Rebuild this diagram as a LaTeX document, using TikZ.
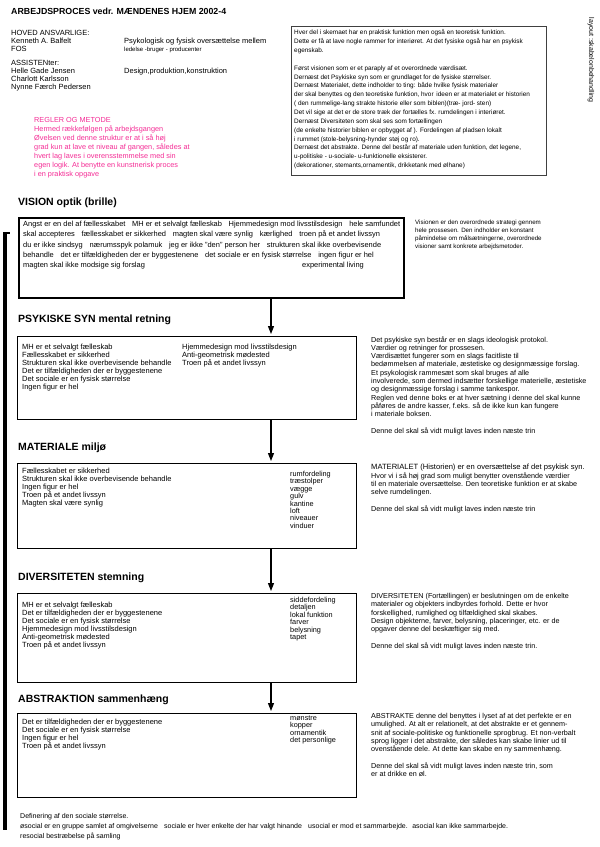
\documentclass[tikz,border=0pt]{standalone}
\usepackage{fontspec}
\setmainfont{Liberation Sans}
\usepackage{tikz}
\usetikzlibrary{arrows.meta}
\definecolor{rulepink}{RGB}{245,45,150}
\newcommand{\gp}{\hspace{0.9em}}

\begin{document}
\begin{tikzpicture}[x=1pt,y=-1pt,
		plain/.style={anchor=north west, inner sep=0pt, align=left, font=\fontsize{7.5}{8}\selectfont},
		note/.style={plain, font=\fontsize{7.2}{8.3}\selectfont},
		hdr/.style={anchor=west, inner sep=0pt, font=\fontsize{10.5}{12}\selectfont\bfseries},
		stagebox/.style={draw, anchor=north west, inner sep=0pt, line width=1.3pt, minimum width=339pt},
		flow/.style={-{Triangle[length=8pt,width=6pt]}, line width=1.3pt, shorten >=2pt}]
	\useasboundingbox (0,0) rectangle (600,847);
	\fill[white] (0,0) rectangle (600,847);
	\node[anchor=base west, inner sep=0pt, font=\fontsize{8.8}{11}\selectfont\bfseries] (title) at (11,14) {ARBEJDSPROCES vedr. MÆNDENES HJEM 2002-4};
	\node[plain, font=\fontsize{7.5}{8}\selectfont] (lead) at (11,30) {HOVED ANSVARLIGE:\\Kenneth A. Balfelt\\FOS};
	\node[plain, font=\fontsize{7.5}{8}\selectfont] (assist) at (11,60) {ASSISTENter:\\Helle Gade Jensen\\Charlott Karlsson\\Nynne Færch Pedersen};
	\node[plain, font=\fontsize{7.5}{8}\selectfont] (role) at (124,38) {Psykologisk og fysisk oversættelse mellem};
	\node[plain, font=\fontsize{6}{7}\selectfont] (rolesub) at (124,46.5) {ledelse -bruger - producenter};
	\node[plain, font=\fontsize{7.5}{8}\selectfont] (design) at (124,68) {Design,produktion,konstruktion};
	\node[plain, text=rulepink, font=\fontsize{7.3}{9}\selectfont] (rules) at (34,117) {REGLER OG METODE\\Hermed rækkefølgen på arbejdsgangen\\Øvelsen ved denne struktur er at i så høj\\grad kun at lave et niveau af gangen, således at\\hvert lag laves i overensstemmelse med sin\\egen logik. At benytte en kunstnerisk proces\\i en praktisk opgave};
	\node[draw=black!75, line width=0.7pt, anchor=north west, inner sep=0pt, minimum width=255pt, minimum height=149pt] (notebox) at (291,26) {};
	\node[plain, font=\fontsize{6.4}{8.85}\selectfont] (notes) at (294,29.5) {Hver del i skemaet har en praktisk funktion men også en teoretisk funktion.\\Dette er få at lave nogle rammer for interiøret. At det fysiske også har en psykisk\\egenskab.\\[8.85pt]Først visionen som er et paraply af et overordnede værdisæt.\\Dernæst det Psykiske syn som er grundlaget for de fysiske størrelser.\\Dernæst Materialet, dette indholder to ting: både hvilke fysisk materialer\\der skal benyttes og den teoretiske funktion, hvor\, ideen er at materialet er historien\\( den rummelige-lang strakte historie eller som biblen)(træ- jord- sten)\\Det vil sige at det er de store træk der fortælles fx. rumdelingen i interiøret.\\Dernæst Diversiteten som skal ses som fortællingen\\(de enkelte historier biblen er opbygget af ). Fordelingen af pladsen lokalt\\i rummet (stole-belysning-hynder støj og ro).\\Dernæst det abstrakte. Denne del består af materiale uden funktion, det legene,\\u-politiske - u-sociale- u-funktionelle eksisterer.\\(dekorationer, stemants,ornamentik, drikketank med ølhane)};
	\node[inner sep=0pt, rotate=-90, font=\fontsize{7}{8}\selectfont] (layoutlbl) at (591,60) {layout :skabelonbehandling};
	\draw[line width=3.5pt] (5,232) -- (5,830);
	\draw[line width=2pt] (3.25,233) -- (10,233);
	\node[hdr] (vishdr) at (18,203) {VISION optik (brille)};
	\node[draw, anchor=north west, inner sep=0pt, line width=1.6pt, minimum width=385pt, minimum height=80pt] (visbox) at (18,217) {};
	\node[plain, font=\fontsize{7.45}{10.3}\selectfont] (vistxt) at (23,221) {Angst er en del af fællesskabet\gp MH er et selvalgt fælleskab\gp Hjemmedesign mod livsstilsdesign\gp hele samfundet\\skal accepteres\gp fællesskabet er sikkerhed\gp magten skal være synlig\gp kærlighed\gp troen på et andet livssyn\\du er ikke sindsyg\gp nærumsspyk polamuk\gp jeg er ikke "den" person her\gp strukturen skal ikke overbevisende\\behandle\gp det er tilfældigheden der er byggestenene\gp det sociale er en fysisk størrelse\gp ingen figur er hel\\magten skal ikke modsige sig forslag};
	\node[plain, font=\fontsize{7.45}{10.3}\selectfont] (visxp) at (302,262.2) {experimental living};
	\node[plain, font=\fontsize{6.2}{8}\selectfont] (visnote) at (415,219.5) {Visionen er den overordnede strategi gennem\\hele prossesen. Den indholder en konstant\\påmindelse om målsætningerne, overordnede\\visioner samt konkrete arbejdsmetoder.};
	\coordinate (flowx) at (271,0);
	\node[hdr] (psyhdr) at (18,320) {PSYKISKE SYN mental retning};
	\node[stagebox, minimum height=83pt] (psybox) at (17,336) {};
	\node[plain] (psytxt) at (22,344) {MH er et selvalgt fælleskab\\Fællesskabet er sikkerhed\\Strukturen skal ikke overbevisende behandle\\Det er tilfældigheden der er byggestenene\\Det sociale er en fysisk størrelse\\Ingen figur er hel};
	\node[plain] (psytxtb) at (182,344) {Hjemmedesign mod livsstilsdesign\\Anti-geometrisk mødested\\Troen på et andet livssyn};
	\node[note] (psynote) at (371,336) {Det psykiske syn består er en slags ideologisk protokol.\\Værdier og retninger for prossesen.\\Værdisættet fungerer som en slags facitliste til\\bedømmelsen af materiale, æstetiske og designmæssige forslag.\\Et psykologisk rammesæt som skal bruges af alle\\involverede, som dermed indsætter forskellige materielle, æstetiske\\og designmæssige forslag i samme tankespor.\\Reglen ved denne boks er at hver sætning i denne del skal kunne\\påføres de andre kasser, f.eks. så de ikke kun kan fungere\\i materiale boksen.\\[8.3pt]Denne del skal så vidt muligt laves inden næste trin};
	\node[hdr] (mathdr) at (18,448) {MATERIALE miljø};
	\node[stagebox, minimum height=85pt] (matbox) at (17,463) {};
	\node[plain] (mattxt) at (22,468) {Fællesskabet er sikkerhed\\Strukturen skal ikke overbevisende behandle\\Ingen figur er hel\\Troen på et andet livssyn\\Magten skal være synlig};
	\node[plain, font=\fontsize{7.3}{7.4}\selectfont] (matlist) at (290,471) {rumfordeling\\træstolper\\vægge\\gulv\\kantine\\loft\\niveauer\\vinduer};
	\node[note] (matnote) at (371,464) {{\fontsize{7.6}{8.3}\selectfont MATERIALET (Historien) er en oversættelse af det psykisk syn.}\\Hvor vi i så høj grad som muligt benytter ovenstående værdier\\til en materiale oversættelse. Den teoretiske funktion er at skabe\\selve rumdelingen.\\[8.3pt]Denne del skal så vidt muligt laves inden næste trin};
	\node[hdr] (divhdr) at (18,578) {DIVERSITETEN stemning};
	\node[stagebox, minimum height=89pt] (divbox) at (17,593) {};
	\node[plain] (divtxt) at (22,602) {MH er et selvalgt fælleskab\\Det er tilfældigheden der er byggestenene\\Det sociale er en fysisk størrelse\\Hjemmedesign mod livsstilsdesign\\Anti-geometrisk mødested\\Troen på et andet livssyn};
	\node[plain, font=\fontsize{7.3}{7.4}\selectfont] (divlist) at (290,597) {siddefordeling\\detaljen\\lokal funktion\\farver\\belysning\\tapet};
	\node[note] (divnote) at (371,593) {DIVERSITETEN (Fortællingen) er beslutningen om de enkelte\\materialer og objekters indbyrdes forhold. Dette er hvor\\forskellighed, rumlighed og tilfældighed skal skabes.\\Design objekterne, farver, belysning, placeringer, etc. er de\\opgaver denne del beskæftiger sig med.\\[8.3pt]Denne del skal så vidt muligt laves inden næste trin.};
	\node[hdr] (abshdr) at (18,700) {ABSTRAKTION sammenhæng};
	\node[stagebox, minimum height=84pt] (absbox) at (17,713) {};
	\node[plain] (abstxt) at (22,719) {Det er tilfældigheden der er byggestenene\\Det sociale er en fysisk størrelse\\Ingen figur er hel\\Troen på et andet livssyn};
	\node[plain, font=\fontsize{7.3}{7.4}\selectfont] (abslist) at (290,715.5) {mønstre\\kopper\\ornamentik\\det personlige};
	\node[note] (absnote) at (371,713) {ABSTRAKTE denne del benyttes i lyset af at det perfekte er en\\umulighed. At alt er relationelt, at det abstrakte er et gennem-\\snit af sociale-politiske og funktionelle sprogbrug. Et non-verbalt\\sprog ligger i det abstrakte, der således kan skabe linier ud til\\ovenstående dele. At dette kan skabe en ny sammenhæng.\\[8.3pt]Denne del skal så vidt muligt laves inden næste trin, som\\er at drikke en øl.};
	\node[plain, font=\fontsize{7}{10}\selectfont] (socdef) at (20,813.5) {Definering af den sociale størrelse.\\øsocial er en gruppe samlet af omgivelserne\gp sociale er hver enkelte der har valgt hinande\gp usocial er mod et sammarbejde.\; asocial kan ikke sammarbejde.\\resocial bestræbelse på samling};
	\draw[flow] (visbox.south -| flowx) -- (psybox.north -| flowx);
	\draw[flow] (psybox.south -| flowx) -- (matbox.north -| flowx);
	\draw[flow] (matbox.south -| flowx) -- (divbox.north -| flowx);
	\draw[flow] (divbox.south -| flowx) -- (absbox.north -| flowx);
\end{tikzpicture}
\end{document}
